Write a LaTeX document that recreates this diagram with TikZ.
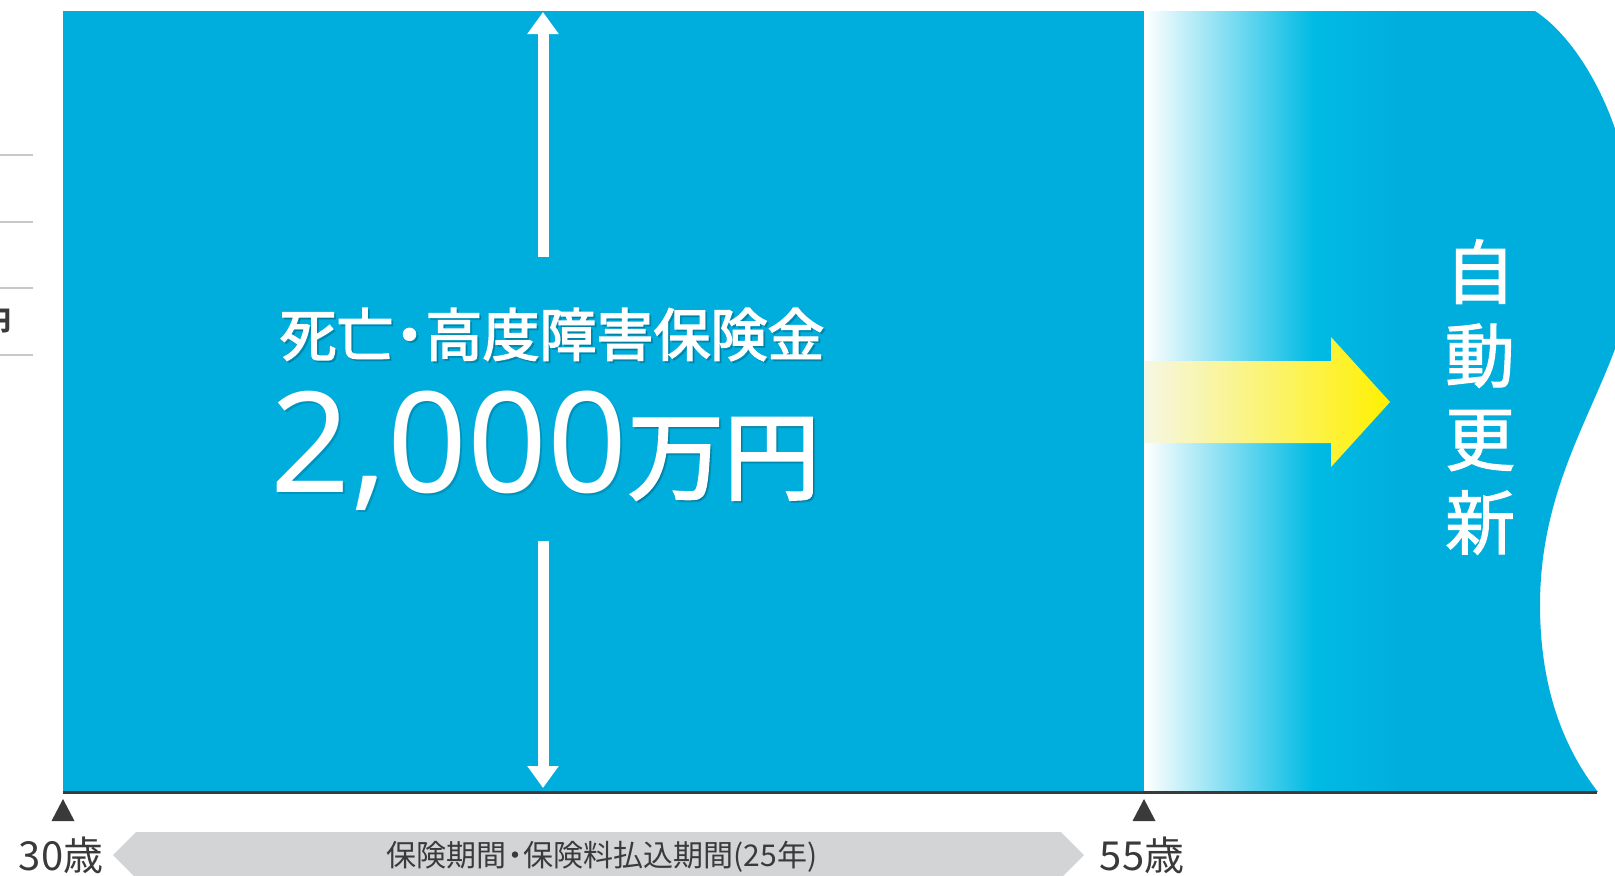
\documentclass[tikz,border=0pt]{standalone}
\usepackage{fontspec}
\setmainfont{Noto Sans CJK JP}
\newfontfamily\numfont{Noto Sans}
\newfontfamily\futoji{Noto Sans CJK JP}[FakeBold=2.5]
\newfontfamily\chuji{Noto Sans CJK JP}[FakeBold=1.5]
\usetikzlibrary{arrows.meta}
\definecolor{hoken}{RGB}{0,174,221}
\definecolor{hokenlight}{RGB}{0,187,228}
\definecolor{kiiro}{RGB}{255,240,0}
\definecolor{usukiiro}{RGB}{246,247,228}
\definecolor{sumi}{RGB}{58,58,58}
\definecolor{nezumi}{RGB}{211,212,214}
\definecolor{keisen}{RGB}{200,200,200}

\begin{document}
\begin{tikzpicture}[x=0.5pt,y=-0.5pt]
  \tikzstyle{every node}=[inner sep=0pt,outer sep=0pt]
  \tikzstyle{lead}=[draw=keisen,line width=0.75pt]
  \tikzstyle{vline}=[draw=white,line width=5.5pt,-{Triangle[width=15pt,length=11pt]}]
  \tikzstyle{age}=[text=sumi,anchor=base,font=\fontsize{20}{24}\selectfont]
  \tikzstyle{kage}=[text=black,opacity=0.15]
  \newcommand{\nakaten}{\hspace{-.22em}・\hspace{-.22em}}
  \newcommand{\sibou}{\futoji\fontsize{28.5}{30}\selectfont 死亡\nakaten 高度障害保険金}
  \newcommand{\gaku}{{\numfont\fontsize{70}{70}\selectfont 2,000}{\futoji\fontsize{48}{48}\selectfont 万円}}
  \useasboundingbox (0,0) rectangle (1615,875);
% rules of the table on the left
  \foreach \y in {155,222,288,355}{
    \draw[lead] (0,\y) -- (33,\y);
  }
  \node[anchor=east,text=sumi,font=\bfseries\fontsize{13.5}{16}\selectfont] (yen) at (11,321) {円};
% blue area with the wavy end
  \fill[hoken] (63,11) -- (1535,11) .. controls (1580,40) and (1635,130) .. (1635,250)
    .. controls (1635,370) and (1540,450) .. (1540,605)
    .. controls (1540,690) and (1565,750) .. (1598,792) -- (63,792) -- cycle;
  \shade[left color=white,right color=hokenlight] (1144,11) rectangle (1313,791);
  \shade[left color=hokenlight,right color=hoken] (1313,11) rectangle (1400,791);
  \draw[sumi,line width=1.5pt] (63,792.5) -- (1597,792.5);
% amount
  \coordinate (uptop)    at (543,12);
  \coordinate (upfoot)   at (543,257);
  \coordinate (downtop)  at (543,541);
  \coordinate (downfoot) at (543,788);
  \draw[vline] (upfoot) -- (uptop);
  \draw[vline] (downtop) -- (downfoot);
  \node[kage,anchor=base] (sibou kage) at (554,358) {\sibou};
  \node[kage,anchor=base west] (gaku kage) at (272,494) {\gaku};
  \node[anchor=base,text=white] (sibou) at (552,356) {\sibou};
  \node[anchor=base west,text=white] (gaku) at (270,492) {\gaku};
% renewal
  \shade[left color=usukiiro,right color=kiiro] (1144,361) -- (1331,361) -- (1331,337)
    -- (1390,402) -- (1331,467) -- (1331,443) -- (1144,443) -- cycle;
  \node[text=white,align=center,font=\chuji\fontsize{35}{41.75}\selectfont] (koushin) at (1480,397)
    {自\\動\\更\\新};
% ages and term
  \foreach \x/\nen in {63/30,1144/55}{
    \fill[sumi] (\x,799) -- ++(-11.5,22) -- ++(23,0) -- cycle;
    \node[age] (age\nen) at (\x-2,870) {\nen 歳};
  }
  \fill[nezumi] (136,832) -- (1061,832) -- (1084,855) -- (1061,878) -- (136,878) -- (113,855) -- cycle;
  \node[anchor=base,text=sumi,font=\fontsize{15}{18}\selectfont] (kikan) at (602,866)
    {保険期間\nakaten 保険料払込期間(25年)};
\end{tikzpicture}
\end{document}
